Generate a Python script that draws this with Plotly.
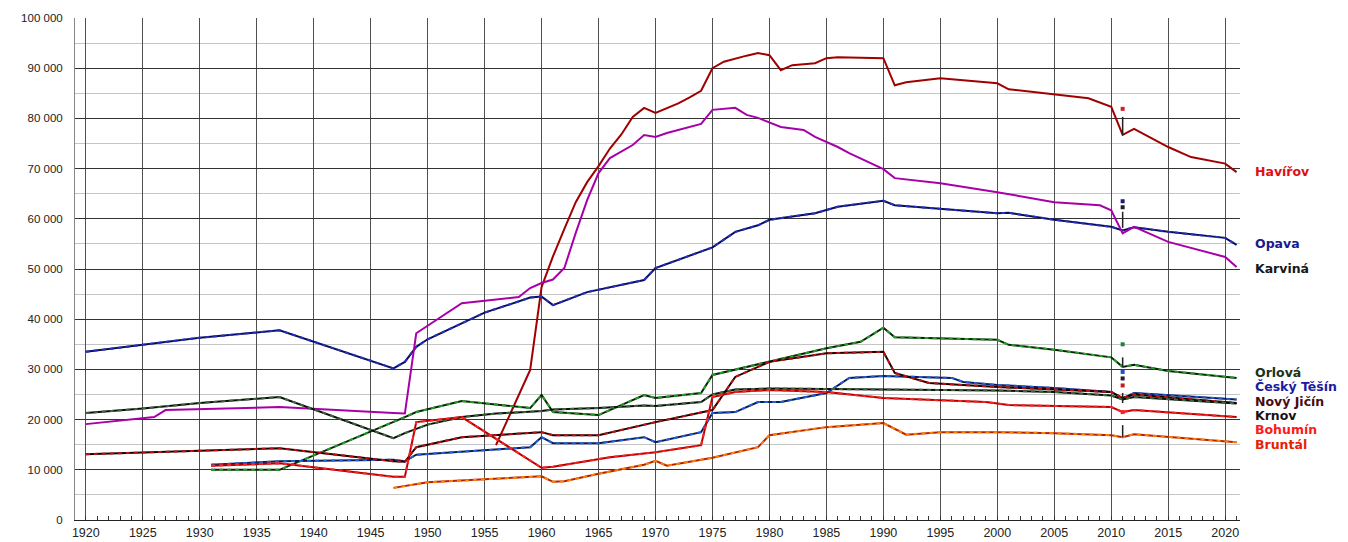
import plotly.graph_objects as go

# ---------------- data ----------------
opava_years = [1920, 1925, 1930, 1937, 1947, 1948, 1949, 1950, 1955, 1959, 1960, 1961, 1964, 1969, 1970,
               1975, 1977, 1979, 1980, 1984, 1986, 1990, 1991, 2000, 2001, 2005, 2010, 2011, 2012, 2015, 2020, 2021]
opava_vals = [33500, 34900, 36300, 37800, 30200, 31500, 34500, 36000, 41300, 44300, 44500, 42800, 45400, 47800, 50200,
              54300, 57400, 58700, 59800, 61100, 62400, 63600, 62700, 61100, 61200, 59800, 58400, 57700, 58300, 57400, 56200, 54800]

karvina_years = [1920, 1926, 1927, 1937, 1947, 1948, 1949, 1953, 1958, 1959, 1960, 1961, 1962, 1963, 1964, 1965, 1966,
                 1968, 1969, 1970, 1971, 1973, 1974, 1975, 1977, 1978, 1979, 1981, 1983, 1984, 1986, 1987, 1990, 1991,
                 1995, 2000, 2005, 2009, 2010, 2011, 2012, 2015, 2020, 2021]
karvina_vals = [19100, 20500, 21900, 22500, 21300, 21200, 37200, 43200, 44400, 46200, 47200, 47900, 50200, 57200, 63700,
                69100, 72100, 74700, 76700, 76300, 77100, 78300, 78900, 81700, 82100, 80700, 80100, 78300, 77700, 76300,
                74300, 73100, 69900, 68100, 67100, 65300, 63300, 62700, 61700, 57100, 58400, 55400, 52400, 50400]

havirov_years = [1956, 1959, 1960, 1961, 1962, 1963, 1964, 1965, 1966, 1967, 1968, 1969, 1970, 1971, 1972, 1973, 1974,
                 1975, 1976, 1978, 1979, 1980, 1981, 1982, 1984, 1985, 1986, 1990, 1991, 1992, 1995, 1996, 2000, 2001,
                 2005, 2008, 2010, 2011, 2012, 2015, 2017, 2020, 2021]
havirov_vals = [14900, 29900, 46400, 52500, 58000, 63300, 67300, 70500, 74000, 76800, 80300, 82100, 81100, 82000, 83000,
                84200, 85500, 90000, 91300, 92500, 93000, 92600, 89600, 90600, 91000, 92000, 92200, 92000, 86600, 87200,
                88000, 87800, 87000, 85800, 84700, 84000, 82300, 76700, 77900, 74300, 72300, 71000, 69300]

orlova_years = [1931, 1937, 1948, 1949, 1953, 1959, 1960, 1961, 1965, 1969, 1970, 1974, 1975, 1980, 1985, 1988, 1990,
                1991, 2000, 2001, 2005, 2010, 2011, 2012, 2015, 2021]
orlova_vals = [10000, 10000, 20500, 21500, 23700, 22300, 24900, 21500, 20900, 24900, 24300, 25300, 28900, 31500, 34200,
               35500, 38300, 36400, 35900, 34900, 33900, 32400, 30500, 30900, 29700, 28300]

tesin_years = [1931, 1937, 1947, 1948, 1949, 1959, 1960, 1961, 1965, 1969, 1970, 1973, 1974, 1975, 1977, 1979, 1981,
               1985, 1987, 1990, 1996, 1997, 2000, 2005, 2010, 2011, 2012, 2021]
tesin_vals = [11000, 11700, 12000, 11700, 13000, 14500, 16500, 15300, 15300, 16500, 15500, 16900, 17500, 21300, 21500,
              23500, 23500, 25300, 28300, 28700, 28300, 27500, 26900, 26300, 25500, 24200, 25300, 24000]

jicin_years = [1920, 1925, 1930, 1937, 1947, 1948, 1949, 1953, 1960, 1961, 1965, 1970, 1974, 1975, 1977, 1980, 1985,
               1990, 1991, 1994, 1997, 2000, 2005, 2010, 2011, 2012, 2021]
jicin_vals = [13100, 13400, 13800, 14300, 11700, 11600, 14500, 16500, 17500, 16900, 16900, 19500, 21500, 21900, 28500,
              31500, 33200, 33500, 29300, 27300, 26900, 26500, 26000, 25500, 24300, 25000, 23300]

krnov_years = [1920, 1925, 1930, 1937, 1947, 1948, 1950, 1953, 1956, 1960, 1961, 1965, 1969, 1970, 1974, 1975, 1977,
               1980, 1990, 2000, 2005, 2010, 2011, 2012, 2021]
krnov_vals = [21300, 22200, 23300, 24500, 16300, 17300, 19000, 20500, 21200, 21700, 22000, 22300, 22800, 22700, 23500,
              25000, 26000, 26200, 26000, 25800, 25500, 24800, 24000, 24500, 23200]

bohumin_years = [1931, 1937, 1947, 1948, 1949, 1953, 1960, 1961, 1966, 1970, 1974, 1975, 1977, 1980, 1985, 1990, 1999,
                 2001, 2010, 2011, 2012, 2021]
bohumin_vals = [10800, 11300, 8600, 8600, 19500, 20500, 10400, 10600, 12500, 13500, 14900, 24500, 25500, 25900, 25500,
                24300, 23500, 22900, 22500, 21500, 21900, 20500]

bruntal_years = [1947, 1948, 1950, 1955, 1960, 1961, 1962, 1965, 1969, 1970, 1971, 1975, 1979, 1980, 1985, 1990, 1992,
                 1995, 2000, 2005, 2010, 2011, 2012, 2021]
bruntal_vals = [6400, 6800, 7500, 8100, 8700, 7600, 7700, 9200, 11000, 11800, 10800, 12400, 14500, 16900, 18500, 19300,
                17000, 17500, 17500, 17300, 16900, 16500, 17100, 15500]

# 2011 census marks and connectors
census_year = 2011
census_mark_vals = [81900, 63500, 62300, 35000, 29500, 28200, 26800, 21500]
census_mark_colors = ["#d02020", "#1a1a80", "#202020", "#208040", "#2050d0", "#202020", "#c02020", "#ff2020"]
census_seg_lo = [76700, 58200, 30500, 23300, 16500]
census_seg_hi = [80300, 61400, 32400, 25300, 18900]

x_ticks = list(range(1920, 2021, 5))
y_ticks = list(range(0, 100001, 10000))
y_tick_text = ["0"] + [f"{v // 1000} 000" for v in y_ticks[1:]]

# series: name, years, values, base colour, overlay colour (None = solid), label colour, label value
series = [
    ("Havířov", havirov_years, havirov_vals, "#a00000", None, "#e01010", 69500),
    ("Opava", opava_years, opava_vals, "#0c0c50", "#2030c8", "#1a1a90", 55000),
    ("Karviná", karvina_years, karvina_vals, "#a800a8", None, "#181818", 50200),
    ("Orlová", orlova_years, orlova_vals, "#0c200c", "#20a020", "#1a3218", 29480),
    ("Český Těšín", tesin_years, tesin_vals, "#0c1c50", "#2060e0", "#1a1aa0", 26590),
    ("Nový Jičín", jicin_years, jicin_vals, "#1c0000", "#c01010", "#4a0c0c", 23700),
    ("Krnov", krnov_years, krnov_vals, "#0c0c0c", "#3a6a3a", "#141414", 20820),
    ("Bohumín", bohumin_years, bohumin_vals, "#b00000", "#ff2020", "#ff1a1a", 17930),
    ("Bruntál", bruntal_years, bruntal_vals, "#b82000", "#ff8000", "#e82000", 15040),
]

fig = go.Figure()

for name, yrs, vals, base, over, lab_col, lab_y in series:
    fig.add_trace(go.Scatter(x=yrs, y=vals, mode="lines", name=name, showlegend=False,
                             line=dict(color=base, width=2), hoverinfo="x+y+name"))
    if over:
        fig.add_trace(go.Scatter(x=yrs, y=vals, mode="lines", showlegend=False,
                                 line=dict(color=over, width=2, dash="4px,4px"), hoverinfo="skip"))

# census connectors
seg_x, seg_y = [], []
for lo, hi in zip(census_seg_lo, census_seg_hi):
    seg_x += [census_year, census_year, None]
    seg_y += [lo, hi, None]
fig.add_trace(go.Scatter(x=seg_x, y=seg_y, mode="lines", showlegend=False,
                         line=dict(color="#202020", width=1.5), hoverinfo="skip"))
fig.add_trace(go.Scatter(x=[census_year] * len(census_mark_vals), y=census_mark_vals, mode="markers",
                         showlegend=False, marker=dict(color=census_mark_colors, size=4, symbol="square"),
                         hoverinfo="skip"))

# labels on the right
for name, yrs, vals, base, over, lab_col, lab_y in series:
    fig.add_annotation(xref="paper", yref="y", x=1.011, y=lab_y, text=f"<b>{name}</b>",
                       showarrow=False, xanchor="left", yanchor="middle",
                       font=dict(family="DejaVu Sans", size=12.5, color=lab_col))

fig.update_layout(
    width=1348, height=542,
    margin=dict(l=75, r=108, t=18, b=22, autoexpand=False),
    paper_bgcolor="white", plot_bgcolor="white",
    font=dict(family="Liberation Sans, Arial", size=12, color="#222"),
    xaxis=dict(range=[1919.05, 2021.3], tickvals=x_ticks, ticktext=[str(t) for t in x_ticks],
               automargin=False,
               showgrid=True, gridcolor="#505050", gridwidth=1.4, zeroline=False,
               showline=True, linecolor="#222", linewidth=1.3, ticks="", ticklabelstandoff=1,
               tickfont=dict(size=12.5, color="#222"),
               minor=dict(dtick=1, tick0=1920, ticks="inside", ticklen=4, tickcolor="#333", tickwidth=1,
                          showgrid=False)),
    yaxis=dict(range=[0, 100000], tickvals=y_ticks, ticktext=y_tick_text,
               automargin=False,
               showgrid=True, gridcolor="#333", gridwidth=1.4, zeroline=False,
               showline=True, linecolor="#888", linewidth=1, ticks="", ticklabelstandoff=9,
               tickfont=dict(size=11.5, color="#222"),
               minor=dict(dtick=5000, showgrid=True, gridcolor="#c4c4c4", gridwidth=1.3)),
)

fig.write_html("out.html", config={"displayModeBar": False},
               post_script="document.body.style.margin='0';document.body.style.overflow='hidden';")
